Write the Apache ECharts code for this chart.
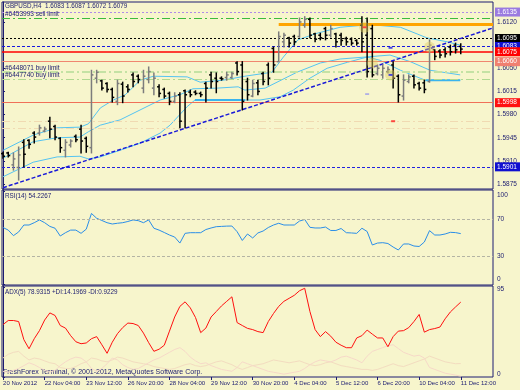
<!DOCTYPE html>
<html><head><meta charset="utf-8">
<script src="https://cdn.jsdelivr.net/npm/echarts@6/dist/echarts.min.js"></script>
<style>html,body{margin:0;padding:0;background:#f7f5cc}#c{width:520px;height:390px}</style>
</head><body><div id="c"></div>
<script>
var tickIndex = [0,8,16,24,32,40,48,56,64,72,80,88];
var tickLabels = ['20 Nov 2012','22 Nov 04:00','23 Nov 12:00','26 Nov 20:00','28 Nov 04:00','29 Nov 12:00','30 Nov 20:00','4 Dec 04:00','5 Dec 12:00','6 Dec 20:00','10 Dec 04:00','11 Dec 12:00'];
var priceTicks = [1.5875,1.5910,1.5945,1.5980,1.6015,1.6050,1.6120];

var opens  = [1.5921,1.5922,1.5904,1.5900,1.5938,1.5941,1.5952,1.5952,1.5955,1.5970,1.5962,1.5944,1.5926,1.5934,1.5947,1.5958,1.5944,1.5930,1.6035,1.6031,1.6027,1.6018,1.6000,1.6026,1.6022,1.6040,1.6038,1.6020,1.6033,1.6020,1.6022,1.6018,1.6012,1.6000,1.6010,1.6016,1.6014,1.6014,1.6012,1.6027,1.6040,1.6035,1.6035,1.6036,1.6036,1.6058,1.6055,1.6030,1.6008,1.6028,1.6042,1.6055,1.6080,1.6060,1.6090,1.6096,1.6098,1.6098,1.6115,1.6124,1.6102,1.6100,1.6110,1.6100,1.6102,1.6100,1.6095,1.6094,1.6092,1.6115,1.6100,1.6110,1.6042,1.6040,1.6045,1.6055,1.6038,1.6008,1.6030,1.6038,1.6027,1.6028,1.6030,1.6078,1.6076,1.6078,1.6082,1.6085,1.6083];
var highs  = [1.5923,1.5923,1.5922,1.5931,1.5942,1.5942,1.5954,1.5964,1.5961,1.5976,1.5964,1.5945,1.5942,1.5942,1.5949,1.5964,1.5946,1.6047,1.6047,1.6032,1.6028,1.6020,1.6032,1.6029,1.6025,1.6043,1.6040,1.6047,1.6052,1.6043,1.6025,1.6020,1.6014,1.6013,1.6013,1.6017,1.6017,1.6016,1.6014,1.6029,1.6044,1.6043,1.6037,1.6044,1.6044,1.6060,1.6060,1.6035,1.6032,1.6032,1.6044,1.6058,1.6082,1.6105,1.6103,1.6097,1.6100,1.6126,1.6128,1.6126,1.6103,1.6103,1.6112,1.6115,1.6103,1.6103,1.6097,1.6096,1.6093,1.6128,1.6126,1.6115,1.6055,1.6055,1.6052,1.6060,1.6040,1.6040,1.6040,1.6040,1.6029,1.6032,1.6093,1.6078,1.6078,1.6081,1.6085,1.6088,1.6087];
var lows   = [1.5914,1.5916,1.5896,1.5881,1.5901,1.5929,1.5937,1.5949,1.5954,1.5945,1.5942,1.5923,1.5916,1.5931,1.5939,1.5922,1.5923,1.5922,1.6028,1.6017,1.6014,1.5999,1.5995,1.5998,1.6014,1.6022,1.6028,1.6013,1.6028,1.6010,1.6007,1.6005,1.5995,1.5998,1.5960,1.5960,1.6007,1.6010,1.6007,1.5999,1.6020,1.6013,1.6032,1.6032,1.6035,1.6040,1.5987,1.6002,1.6007,1.6010,1.6025,1.6025,1.6044,1.6060,1.6082,1.6082,1.6085,1.6097,1.6112,1.6096,1.6090,1.6093,1.6093,1.6097,1.6082,1.6085,1.6085,1.6085,1.6085,1.6075,1.6037,1.6037,1.6040,1.6035,1.6043,1.6020,1.5999,1.6002,1.6028,1.6020,1.6017,1.6013,1.6029,1.6063,1.6066,1.6067,1.6070,1.6073,1.6072];
var closes = [1.5917,1.5918,1.5913,1.5919,1.5920,1.5935,1.5946,1.5960,1.5958,1.5958,1.5946,1.5930,1.5938,1.5940,1.5942,1.5940,1.5932,1.6040,1.6044,1.6020,1.6018,1.6006,1.6027,1.6008,1.6018,1.6030,1.6033,1.6038,1.6045,1.6035,1.6012,1.6008,1.6000,1.6008,1.5970,1.6010,1.6010,1.6012,1.6010,1.6020,1.6030,1.6030,1.6034,1.6040,1.6042,1.6045,1.6000,1.6010,1.6027,1.6015,1.6030,1.6035,1.6055,1.6098,1.6100,1.6088,1.6090,1.6120,1.6124,1.6100,1.6094,1.6096,1.6100,1.6110,1.6090,1.6092,1.6090,1.6088,1.6088,1.6090,1.6045,1.6040,1.6050,1.6050,1.6048,1.6035,1.6010,1.6032,1.6037,1.6025,1.6020,1.6018,1.6085,1.6068,1.6070,1.6072,1.6075,1.6078,1.6079];

var bandUpper = [[0,1.5926],[5.8,1.5949],[10.4,1.5960],[14.8,1.5961],[16.4,1.5966],[18.7,1.5990],[21.2,1.6002],[23.5,1.6010],[26.4,1.6032],[28.9,1.6038],[35.4,1.6037],[37.9,1.6029],[42.3,1.6032],[46.5,1.6038],[51.7,1.6044],[53.9,1.6067],[56.7,1.6093],[60.4,1.6103],[64.8,1.6112],[70.6,1.6116],[76.4,1.6112],[81.5,1.6096],[85.4,1.6090],[87.9,1.6085]];
var bandMiddle = [[0,1.5914],[5.8,1.5939],[10.4,1.5945],[14.8,1.5946],[16.4,1.5954],[18.7,1.5964],[22.5,1.5972],[30.2,1.6002],[34,1.6010],[36.5,1.6019],[41.2,1.6020],[45.2,1.6022],[46.5,1.6017],[50.4,1.6020],[56.5,1.6044],[61,1.6058],[64.8,1.6064],[69.6,1.6067],[74.4,1.6070],[78.3,1.6060],[82.1,1.6047],[87.9,1.6040]];
var bandLower = [[0,1.5886],[5.8,1.5908],[10.4,1.5916],[14.8,1.5917],[16.4,1.5913],[18.7,1.5916],[22.5,1.5926],[26.4,1.5937],[30.2,1.5952],[32.1,1.5964],[35.4,1.5992],[36.9,1.6002],[46.5,1.6002],[49.4,1.6002],[53.3,1.6007],[55.8,1.6017],[59,1.6035],[62.3,1.6050],[66.2,1.6059],[70,1.6067],[72.5,1.6062],[76.4,1.6047],[80.2,1.6035],[81.2,1.6032],[87.9,1.6032]];
var supportA = [[36.9,1.6002],[46.5,1.6002]];
var supportB = [[81.2,1.6032],[87.9,1.6032]];
var trendLine = [[0,1.58695],[94,1.61105]];
var orangeLine = [[53,1.6117],[94.2,1.6117]];
var tradeMarks = [[69.5,1.6112],[71,1.6058],[74.5,1.6040],[82,1.6082]];
var redTicks = [[69.5,1.6112],[75,1.5970]];
var blueTicks = [[74.5,1.6040],[74.5,1.6081]];
var violetTicks = [[70,1.6011]];

var tagLevels = [1.6135,1.6095,1.6083,1.6075,1.6060,1.5998,1.5901];
var orderLevels = [1.6126,1.6045,1.6034];
var orderNames = ['#6453993 sell limit','#6448071 buy limit','#6447740 buy limit'];
var faintLevels = [1.5970,1.5960];

var rsi = [60.8,58,52,56,63.5,63.5,66,69,66,62,60,51.6,55.2,58,58,54.5,59,76,70.8,68.4,66,64.6,65.4,66,67.3,69,68.2,66,69,60,58,55.4,52.7,50.5,44,54.5,55.2,55.2,55.2,58.6,60.3,61.7,62,62.3,62.4,56.3,46.8,53.8,49.5,54.9,57,60.8,63.5,65.4,63.5,63.5,63.5,67.8,69.5,61,60.3,60.3,61.3,57.6,57.6,59.7,55.2,54.9,54.5,60,56.5,41.9,44,44.4,43.5,39.7,36.5,43,43,40.8,40.3,45.1,57.4,52.7,52.7,53.8,55.6,55.3,54.2];
var adx = [55.3,59.6,59.6,58.5,39.4,29.8,40.4,48.9,60.1,67.6,64.9,54.3,51.6,43.6,37.2,35.1,35.9,40.4,42.6,34,25,36.7,45.7,52.1,56.9,56.4,54.3,46.3,36.2,27.1,29.3,33.5,48.4,63.3,74.5,79.3,72.9,62.8,46.8,51.6,63.3,69.1,75,79.8,84.6,57.4,54.3,51.3,50,47.9,46.8,58.5,67,74.5,79.8,83,86.2,91,93.6,69.1,50,42.6,47.9,43.1,36.7,33.5,30.9,30.9,41.2,43.6,49.5,45.2,41.2,41.2,31.9,42.6,48.4,48.9,52.1,58.5,66,47.3,50,51.1,52.7,61.4,68.6,73.9,79];
var plusDI = [20,24,26,27,22,18,20,19,17,15,14,10,9,9,11,14,16,20,19,17,16,18,21,20,18,16,15,14,13,11,10,9,8,9,11,13,14,12,11,12,14,16,17,15,13,10,8,10,12,13,14,16,18,17,16,15,16,17,15,13,12,13,15,16,14,12,11,10,9,8,8,7,8,10,12,14,12,11,13,15,17,19,22,20,18,16,15,14,14.2];
var minusDI = [6,5,7,9,12,15,13,10,7,5,7,12,16,19,21,20,16,9,6,9,14,20,18,13,10,8,9,12,15,18,20,23,26,29,31,27,21,17,14,15,12,10,8,7,6,10,16,14,12,10,8,6,5,4,3,4,5,6,9,13,16,18,17,16,18,21,22,20,18,15,22,27,29,31,33,34,30,26,24,22,23,20,10,8,6,4,3,2,0.9];

var FONT = 'Liberation Sans';
var NAVY = '#1c1c70';
var ohlc = opens.map(function(o,i){ return [i, o, highs[i], lows[i], closes[i]]; });

var tagColors = ['#9a7ae0','#000000','#1010d0','#ff0000','#f08070','#ff1010','#1010d0'];
var tagLines = [
  {type:[2,2], color:'#b08ae8', width:1},
  {type:[2,2], color:'#000000', width:1},
  {type:[3,2], color:'#1818e0', width:1},
  {type:'solid', color:'#ff0000', width:1.5},
  {type:'solid', color:'#f08770', width:1},
  {type:'solid', color:'#f07058', width:1},
  {type:[3,2], color:'#2020e0', width:1}
];
var orderLineStyles = [
  {type:[8,3,2,3], color:'#3cbc3c', width:1},
  {type:[8,3,2,3], color:'#c4e2a4', width:2},
  {type:[8,3,2,3], color:'#b0d890', width:1}
];

var mlData = [];
tagLevels.forEach(function(v,k){
  mlData.push({yAxis:v, lineStyle:tagLines[k], label:{show:true, position:'end', distance:2, formatter:v.toFixed(4), backgroundColor:tagColors[k], color:'#ffffff', padding:[1,6,1,2], fontSize:6.5, fontFamily:FONT}});
});
orderLevels.forEach(function(v,k){
  mlData.push({yAxis:v, lineStyle:orderLineStyles[k], label:{show:true, position:'insideStartTop', distance:[3,0], formatter:orderNames[k], color:NAVY, fontSize:6.5, fontFamily:FONT}});
});
faintLevels.forEach(function(v){
  mlData.push({yAxis:v, lineStyle:{type:[8,3,2,3], color:'#f0dab2', width:1}, label:{show:false}});
});
mlData.push([{coord:trendLine[0], lineStyle:{type:[4,2], color:'#1a1ad8', width:1.5}},{coord:trendLine[1]}]);
mlData.push([{coord:orangeLine[0], lineStyle:{type:'solid', color:'#ffa500', width:3}},{coord:orangeLine[1]}]);

function yLabel(val){ return val.toFixed(4); }

var option = {
  animation:false,
  backgroundColor:'#f7f5cc',
  grid:[
    {left:2, top:2, width:491, height:187, show:true, borderColor:NAVY, borderWidth:1},
    {left:2, top:190, width:491, height:95, show:true, borderColor:NAVY, borderWidth:1},
    {left:2, top:286, width:491, height:91, show:true, borderColor:NAVY, borderWidth:1}
  ],
  xAxis:[0,1,2].map(function(g){
    return {type:'value', gridIndex:g, min:-0.2, max:94.2,
      axisLine:{show:false}, splitLine:{show:false},
      axisTick:{show:g===2, customValues:tickIndex, length:3, lineStyle:{color:NAVY}},
      axisLabel:{show:g===2, customValues:tickIndex, align:'left', margin:3, fontSize:6, fontFamily:FONT, color:NAVY,
        formatter:function(v){ var k = tickIndex.indexOf(Math.round(v)); return k>=0 ? tickLabels[k] : ''; }}};
  }),
  yAxis:[
    {type:'value', gridIndex:0, position:'right', min:1.58675, max:1.61502,
      axisLine:{show:true, lineStyle:{color:NAVY}}, splitLine:{show:false},
      axisTick:{show:true, customValues:priceTicks, length:2, lineStyle:{color:NAVY}},
      axisLabel:{customValues:priceTicks, formatter:yLabel, fontSize:6.5, fontFamily:FONT, color:NAVY, margin:4}},
    {type:'value', gridIndex:1, position:'right', min:-1.35, max:101.35,
      axisLine:{show:true, lineStyle:{color:NAVY}}, splitLine:{show:false},
      axisTick:{show:true, customValues:[0,30,70,100], length:2, lineStyle:{color:NAVY}},
      axisLabel:{customValues:[0,30,70,100], fontSize:6.5, fontFamily:FONT, color:NAVY, margin:4,
        formatter:function(v){ if(v===100) return '{t|100}'; if(v===0) return '{b|0}'; return String(v); },
        rich:{t:{padding:[7,0,0,0], fontSize:6.5, fontFamily:FONT, color:NAVY}, b:{padding:[0,0,9,0], fontSize:6.5, fontFamily:FONT, color:NAVY}}}},
    {type:'value', gridIndex:2, position:'right', min:0, max:96,
      axisLine:{show:true, lineStyle:{color:NAVY}}, splitLine:{show:false},
      axisTick:{show:true, customValues:[0,95], length:2, lineStyle:{color:NAVY}},
      axisLabel:{customValues:[0,95], fontSize:6.5, fontFamily:FONT, color:NAVY, margin:4,
        formatter:function(v){ if(v===95) return '{t|95}'; return '{b|0}'; },
        rich:{t:{padding:[4,0,0,0], fontSize:6.5, fontFamily:FONT, color:NAVY}, b:{padding:[0,0,6,0], fontSize:6.5, fontFamily:FONT, color:NAVY}}}}
  ],
  series:[
    {type:'line', xAxisIndex:0, yAxisIndex:0, data:bandUpper, symbol:'none', lineStyle:{color:'#55c4f2', width:1}, z:3,
      markLine:{silent:true, precision:6, symbol:['none','none'], animation:false, data:mlData}},
    {type:'line', xAxisIndex:0, yAxisIndex:0, data:bandMiddle, symbol:'none', lineStyle:{color:'#55c4f2', width:1}, z:3},
    {type:'line', xAxisIndex:0, yAxisIndex:0, data:bandLower, symbol:'none', lineStyle:{color:'#55c4f2', width:1}, z:3},
    {type:'line', xAxisIndex:0, yAxisIndex:0, data:supportA, symbol:'none', lineStyle:{color:'#3ab4ee', width:2}, z:3},
    {type:'line', xAxisIndex:0, yAxisIndex:0, data:supportB, symbol:'none', lineStyle:{color:'#3ab4ee', width:2}, z:3},
    {type:'custom', xAxisIndex:0, yAxisIndex:0, data:ohlc, z:5,
      encode:{x:0, y:[1,2,3,4]},
      renderItem:function(params, api){
        var i = api.value(0), o = api.value(1), h = api.value(2), l = api.value(3), c = api.value(4);
        var pH = api.coord([i,h]), pL = api.coord([i,l]), pO = api.coord([i,o]), pC = api.coord([i,c]);
        var col = c >= o ? '#7c7c7c' : '#000000';
        var st = {stroke:col, lineWidth:1.5};
        return {type:'group', children:[
          {type:'line', shape:{x1:pH[0], y1:pH[1]-0.5, x2:pL[0], y2:pL[1]+0.5}, style:st},
          {type:'line', shape:{x1:pO[0]-2, y1:pO[1], x2:pO[0], y2:pO[1]}, style:st},
          {type:'line', shape:{x1:pC[0], y1:pC[1], x2:pC[0]+2, y2:pC[1]}, style:st}
        ]};
      }},
    {type:'scatter', xAxisIndex:0, yAxisIndex:0, data:tradeMarks, symbol:'circle', symbolSize:11, itemStyle:{color:'rgba(226,206,96,0.55)'}, z:6},
    {type:'scatter', xAxisIndex:0, yAxisIndex:0, data:redTicks, symbol:'rect', symbolSize:[4,2], itemStyle:{color:'#ff2020'}, z:7},
    {type:'scatter', xAxisIndex:0, yAxisIndex:0, data:blueTicks, symbol:'rect', symbolSize:[4,2], itemStyle:{color:'#2020e0'}, z:7},
    {type:'scatter', xAxisIndex:0, yAxisIndex:0, data:violetTicks, symbol:'rect', symbolSize:[4,1.5], itemStyle:{color:'#8c8cf0'}, z:7},
    {type:'line', xAxisIndex:1, yAxisIndex:1, data:rsi.map(function(v,i){return [i,v];}), symbol:'none', lineStyle:{color:'#2a8ee8', width:1},
      markLine:{silent:true, symbol:['none','none'], label:{show:false}, lineStyle:{type:[3,2], color:'#b4b4a4', width:1}, data:[{yAxis:70},{yAxis:30}]}},
    {type:'line', xAxisIndex:2, yAxisIndex:2, data:plusDI.map(function(v,i){return [i,v];}), symbol:'none', lineStyle:{color:'#f3dcc0', width:1}},
    {type:'line', xAxisIndex:2, yAxisIndex:2, data:minusDI.map(function(v,i){return [i,v];}), symbol:'none', lineStyle:{color:'#f6d8c8', width:1}},
    {type:'line', xAxisIndex:2, yAxisIndex:2, data:adx.map(function(v,i){return [i,v];}), symbol:'none', lineStyle:{color:'#ff1010', width:1}}
  ],
  graphic:[
    {type:'text', left:5, top:3, style:{text:'GBPUSD,H4  1.6083 1.6087 1.6072 1.6079', fill:NAVY, font:'6.3px "Liberation Sans"'}},
    {type:'text', left:5, top:193, style:{text:'RSI(14) 54.2267', fill:NAVY, font:'6.3px "Liberation Sans"'}},
    {type:'text', left:5, top:289, style:{text:'ADX(5) 78.9315 +DI:14.1969 -DI:0.9229', fill:NAVY, font:'6.3px "Liberation Sans"'}},
    {type:'text', left:3, top:369, style:{text:'FreshForex Terminal, \u00a9 2001-2012, MetaQuotes Software Corp.', fill:NAVY, font:'7px "Liberation Sans"'}}
  ]
};
var chart = echarts.init(document.getElementById('c'));
chart.setOption(option);
</script></body></html>
